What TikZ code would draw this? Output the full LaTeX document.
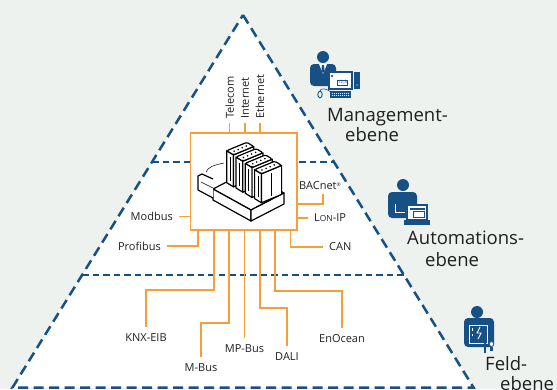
\documentclass[tikz,border=0pt]{standalone}
\usepackage{fontspec}
\setmainfont{Open Sans}
\usetikzlibrary{calc,positioning}
\definecolor{pyrblue}  {RGB}{22,80,132}
\definecolor{busorange}{RGB}{246,158,58}
\definecolor{bgpale}   {RGB}{238,242,239}
\definecolor{lblgray}  {RGB}{32,32,32}

\begin{document}
\begin{tikzpicture}[
  x=1pt, y=-1pt,
  pyr/.style={draw=pyrblue, fill=white, line width=2.5pt,
              dash pattern=on 10pt off 5.5pt, line join=miter},
  lvlrule/.style={draw=pyrblue, line width=1.8pt, dash pattern=on 6.5pt off 4pt},
  ctrlbox/.style={draw=busorange, fill=white, line width=1.3pt,
                  minimum width=106.5pt, minimum height=97pt,
                  inner sep=0pt, outer sep=0pt},
  bus/.style={draw=busorange, line width=1.3pt},
  buslbl/.style={font=\fontsize{11}{13}\selectfont, text=lblgray, inner sep=1pt},
  lvl/.style={font=\fontsize{18.5}{22}\selectfont, text=black!88,
              inner sep=0pt, anchor=base west},
  dev/.style={draw=black, fill=white, line width=1.2pt, line join=round},
  devthin/.style={draw=black, line width=0.5pt},
]
\useasboundingbox (0,0) rectangle (557,389);
\clip (0,0) rectangle (557,389);
\fill[bgpale] (0,0) rectangle (557,389);

%-- pyramid with the three levels
\coordinate (apex) at (243,15);
\coordinate (bl)   at (12.5,387.5);
\coordinate (br)   at (473.5,387.5);
\draw[pyr] (apex) -- (br) -- (bl) -- cycle;
\draw[lvlrule] ($(apex)!0.3946!(bl)$) -- ($(apex)!0.3946!(br)$);
\draw[lvlrule] ($(apex)!0.698!(bl)$)  -- ($(apex)!0.698!(br)$);

%-- controller box
\node[ctrlbox] (ctrl) at (243.75,181.5) {};

% base plate and end block
\draw[dev] (213,189) -- (246,172) -- (284,193) -- (251,210) -- cycle;
\draw[dev] (213,189) -- (251,210) -- (251,221) -- (213,200) -- cycle;
\draw[dev] (251,210) -- (284,193) -- (284,204) -- (251,221) -- cycle;
\draw[dev] (213,179) -- (202,174) -- (198,176) -- (198,190) -- (213,198);
\draw[devthin] (201,182) -- (213,188);
\draw[devthin] (206,172) .. controls (208,167) and (214,165) .. (224,163);
% plug-in modules
\foreach \i/\h in {0/32,1/31,2/30,3/29}{
  \begin{scope}[shift={(9.3*\i,6.3*\i)}]
    \draw[dev] (226.7,150.7) -- (233.5,154.9) -- ++(0,\h) -- (226.7,150.7+\h) -- cycle;
    \draw[dev] (233.5,154.9) -- (253.7,146.5) -- ++(0,\h) -- (233.5,154.9+\h) -- cycle;
    \draw[dev, rounded corners=1.5pt]
      (226.7,150.7) -- (246.9,142.3) -- (253.7,146.5) -- (233.5,154.9) -- cycle;
    \foreach \t in {0.2,0.4,0.6,0.8}
      \fill ($(230.1,152.8)!\t!(250.3,144.4)$) circle (0.9);
    \draw[devthin] (230.1,156.8) -- ++(0,\h-8);
    \draw[devthin] (243.6,154) -- ++(0,\h-6);
  \end{scope}
}

%-- networks on top
\node[buslbl, rotate=90, anchor=west] (telecom)  at (229.75,120) {Telecom};
\node[buslbl, rotate=90, anchor=west] (internet) at (245,120)    {Internet};
\node[buslbl, rotate=90, anchor=west] (ethernet) at (260,120)    {Ethernet};
\draw[bus] (ctrl.north -| telecom.west)  -- ([yshift=-3pt]telecom.west);
\draw[bus] (ctrl.north -| internet.west) -- ([yshift=-3pt]internet.west);
\draw[bus] (ctrl.north -| ethernet.west) -- ([yshift=-3pt]ethernet.west);

%-- automation buses, left and right
\node[buslbl, anchor=east] (modbus)   at (174,216.5) {Modbus};
\node[buslbl, anchor=east] (profibus) at (162,246)   {Profibus};
\node[buslbl] (bacnet) at (320,186) {BACnet\raisebox{3pt}{\fontsize{5}{5}\selectfont ®}};
\node[buslbl, anchor=west] (lonip) at (313,218) {L{\fontsize{8.4}{9}\selectfont ON}-IP};
\node[buslbl, anchor=west] (can)   at (328,247) {CAN};

\draw[bus] (ctrl.west |- modbus.east) -- ([xshift=5pt]modbus.east);
\draw[bus] ([xshift=7.5pt]ctrl.south west) |- ([xshift=5pt]profibus.east);
\draw[bus] ([yshift=-22.5pt]ctrl.east) -| ([xshift=3pt,yshift=-3pt]bacnet.south);
\draw[bus] (ctrl.east |- lonip.west) -- ([xshift=-5pt]lonip.west);
\draw[bus] ([xshift=-6.5pt]ctrl.south east) |- ([xshift=-5pt]can.west);

%-- field buses below
\node[buslbl] (knx)     at (146,338)   {KNX-EIB};
\node[buslbl] (mbus)    at (201,368)   {M-Bus};
\node[buslbl] (mpbus)   at (244.5,348.5) {MP-Bus};
\node[buslbl] (dali)    at (287,357)   {DALI};
\node[buslbl] (enocean) at (342,339)   {EnOcean};

\draw[bus] ([xshift=23.5pt]ctrl.south west) -- ++(0,60) -| ([yshift=5.5pt]knx.north);
\draw[bus] ([xshift=38.5pt]ctrl.south west) -- ++(0,93) -| ([yshift=5.5pt]mbus.north);
\draw[bus] (ctrl.south -| mpbus.north) -- ([yshift=5.5pt]mpbus.north);
\draw[bus] ([xshift=69.5pt]ctrl.south west) -- ++(0,78) -| ([yshift=5.5pt]dali.north);
\draw[bus] ([xshift=84.5pt]ctrl.south west) -- ++(0,61) -| ([yshift=5.5pt]enocean.north);

%-- level names
\node[lvl] (mgmt)   at (327,121)   {Management-};
\node[lvl] (mgmt2)  at (345,141)   {ebene};
\node[lvl] (auto)   at (407,244.3) {Automations-};
\node[lvl] (auto2)  at (425,266.5) {ebene};
\node[lvl] (feld)   at (485,370)   {Feld-};
\node[lvl] (feld2)  at (500,390)   {ebene};

%-- icons: manager at the workstation
\fill[pyrblue] (323,57) circle (6);
\fill[pyrblue, rounded corners=4pt] (310,86) -- (310,64) -- (336,64) -- (336,86) -- cycle;
\fill[white] (319,64) -- (323,74) -- (327,64) -- cycle;
\fill[pyrblue] (322,65) -- (324,65) -- (324.6,71) -- (323,73) -- (321.4,71) -- cycle;
\draw[pyrblue, fill=white, line width=1.2pt] (329,72) rectangle (352,89);
\draw[pyrblue, line width=0.5pt] (331,75) -- (333,77) (333,75) -- (331,77);
\node[font=\fontsize{4.5}{5}\selectfont, text=pyrblue, draw=pyrblue,
      line width=0.5pt, inner sep=0.6pt] (mgmtnum) at (342.5,82.5) {12,3};
\fill[pyrblue] (354,72) rectangle (360,89);
\fill[white] (357,85) circle (0.7);
\fill[pyrblue] (330,91) rectangle (351,97.5);
\foreach \r in {93,95.5}
  \draw[white, line width=0.8pt, dash pattern=on 1.2pt off 0.8pt] (331.5,\r) -- (349.5,\r);
\draw[pyrblue, line width=0.9pt] (320,94.5) ellipse (2.2 and 3.3);
\draw[pyrblue, line width=0.6pt] (320,91.2) .. controls (320,88) and (326,88) .. (330,91.5);

%-- icons: operator at the laptop
\fill[pyrblue] (403,185) circle (6);
\fill[pyrblue, rounded corners=4pt] (388,218) -- (388,192) -- (417,192) -- (417,218) -- cycle;
\draw[white, line width=1pt] (395,204) -- (395,212) -- (405,212);
\draw[pyrblue, fill=white, line width=1.1pt] (407,205) rectangle (427,220);
\fill[pyrblue] (409.5,207.5) rectangle (424.5,209.5);
\draw[pyrblue, line width=0.5pt] (413,211) rectangle (424.5,217);
\fill[pyrblue] (404,220) rectangle (430,225);

%-- icons: electrician
\fill[pyrblue] (477,312) circle (6);
\fill[pyrblue, rounded corners=4pt] (464,347) -- (464,318) -- (494,318) -- (494,347) -- cycle;
\draw[white, line width=0.8pt] (469,325) rectangle (487,343);
\draw[white, line width=0.9pt] (480,327) -- (477,333) -- (481,333) -- (478,339);
\draw[white, line width=0.6pt] (472,328) -- (472,331) (472,334) -- (472,336);
\draw[white, line width=2.4pt] (485,341) -- (485,353);
\draw[pyrblue, line width=1.2pt] (485,341) -- (485,353);
\draw[pyrblue, fill=white, line width=0.8pt] (491.5,344) circle (2.4);
\fill[pyrblue] (490.3,346.5) rectangle (492.7,351);
\end{tikzpicture}
\end{document}
